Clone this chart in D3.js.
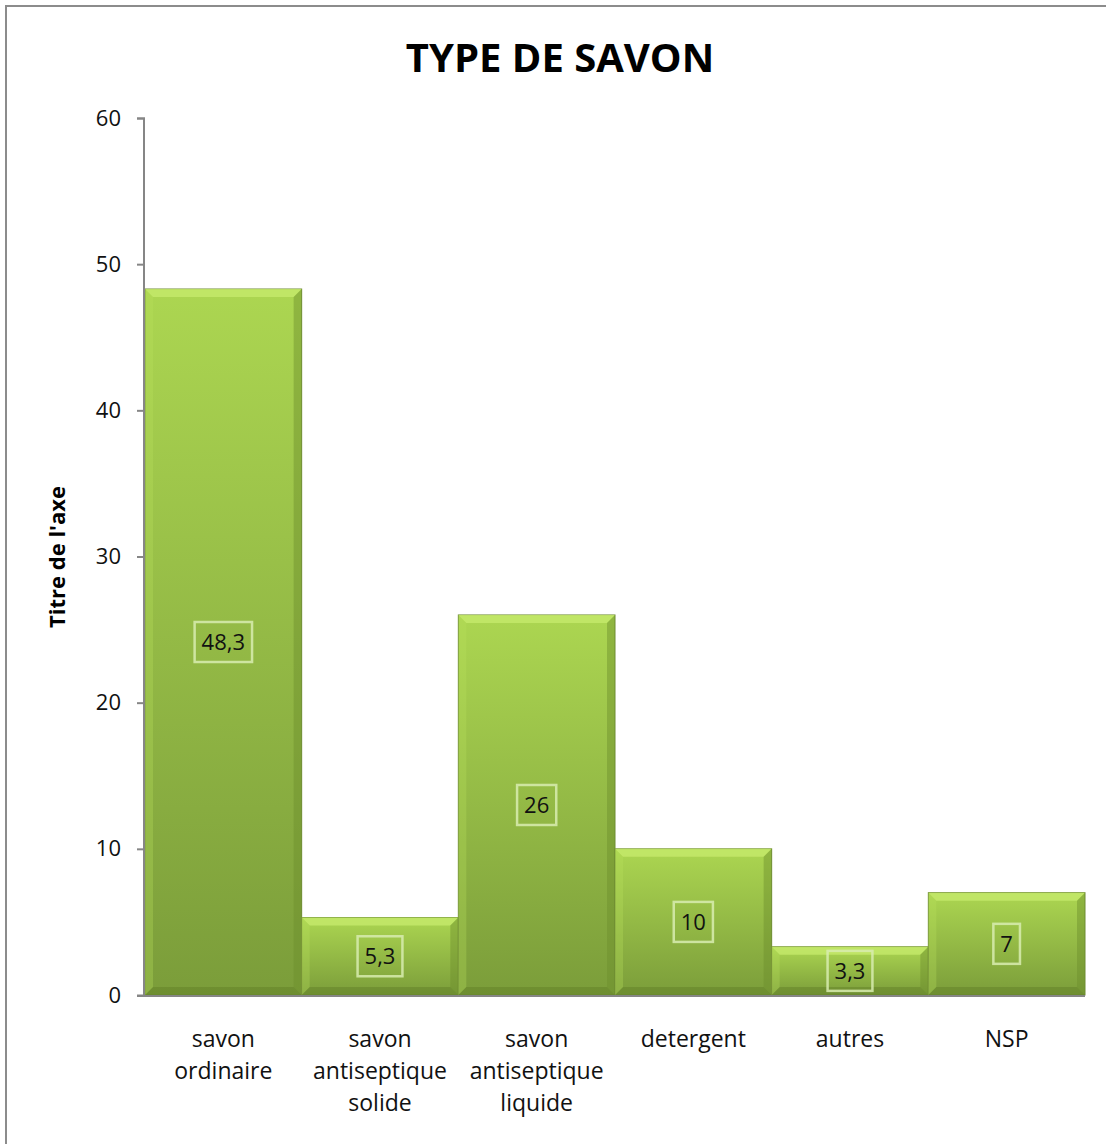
<!DOCTYPE html>
<html>
<head>
<meta charset="utf-8">
<script src="https://cdn.jsdelivr.net/npm/d3@7"></script>
<style>
  body { margin: 0; background: #fff; }
  text { font-family: "Open Sans", "Noto Sans", sans-serif; }
</style>
</head>
<body>
<div id="chart"></div>
<script>
    // donnees du graphique
    var categories = ["savon ordinaire", "savon antiseptique solide", "savon antiseptique liquide", "detergent", "autres", "NSP"];
    var categoryLines = [["savon", "ordinaire"], ["savon", "antiseptique", "solide"], ["savon", "antiseptique", "liquide"], ["detergent"], ["autres"], ["NSP"]];
    var values = [48.3, 5.3, 26, 10, 3.3, 7];
    var valueLabels = ["48,3", "5,3", "26", "10", "3,3", "7"];
    var yTicks = [0, 10, 20, 30, 40, 50, 60];

    var W = 1106, H = 1144;
    var margin = {top: 118, right: 21, bottom: 149, left: 145},
        width = W - margin.left - margin.right,
        height = H - margin.top - margin.bottom;

    var svg = d3.select("#chart")
      .append("svg")
        .attr("width", W)
        .attr("height", H);

    // cadre
    svg.append("rect")
      .attr("x", 6).attr("y", 6)
      .attr("width", W + 20).attr("height", H + 20)
      .attr("fill", "none")
      .attr("stroke", "#8c8c8c")
      .attr("stroke-width", 2);

    // degrade vert
    var defs = svg.append("defs");
    var grad = defs.append("linearGradient")
      .attr("id", "barGrad").attr("x1", 0).attr("y1", 0).attr("x2", 0).attr("y2", 1);
    grad.append("stop").attr("offset", "0%").attr("stop-color", "#acd651");
    grad.append("stop").attr("offset", "100%").attr("stop-color", "#7b9d3a");

    var g = svg.append("g")
      .attr("transform", "translate(" + margin.left + "," + margin.top + ")");

    var x = d3.scaleBand()
      .domain(categories)
      .range([0, width])
      .padding(0);

    var y = d3.scaleLinear()
      .domain([0, 60])
      .range([height, 0]);

    // barres
    var bars = g.selectAll(".bar")
      .data(values)
      .enter()
      .append("g")
        .attr("class", "bar");

    bars.append("rect")
      .attr("x", function(d, i) { return x(categories[i]); })
      .attr("y", function(d) { return y(d); })
      .attr("width", x.bandwidth())
      .attr("height", function(d) { return height - y(d); })
      .attr("fill", "url(#barGrad)")
      .attr("stroke", "#6f8c33")
      .attr("stroke-width", 1);

    // biseau : haut clair, bas et cote droit fonce
    var bev = 8;
    bars.append("path")
      .attr("d", function(d, i) {
        var x0 = x(categories[i]), x1 = x0 + x.bandwidth(), y0 = y(d);
        return "M" + x0 + "," + y0 + "L" + x1 + "," + y0 + "L" + (x1 - bev) + "," + (y0 + bev) + "L" + (x0 + bev) + "," + (y0 + bev) + "Z";
      })
      .attr("fill", "#c6ea6c").attr("opacity", 0.8);
    bars.append("path")
      .attr("d", function(d, i) {
        var x0 = x(categories[i]), x1 = x0 + x.bandwidth(), y0 = y(d), y1 = height;
        return "M" + x1 + "," + y0 + "L" + x1 + "," + y1 + "L" + (x1 - bev) + "," + (y1 - bev) + "L" + (x1 - bev) + "," + (y0 + bev) + "Z";
      })
      .attr("fill", "#6d8f2c").attr("opacity", 0.45);
    bars.append("path")
      .attr("d", function(d, i) {
        var x0 = x(categories[i]), x1 = x0 + x.bandwidth(), y1 = height;
        return "M" + x0 + "," + y1 + "L" + x1 + "," + y1 + "L" + (x1 - bev) + "," + (y1 - bev) + "L" + (x0 + bev) + "," + (y1 - bev) + "Z";
      })
      .attr("fill", "#5f7d26").attr("opacity", 0.45);
    bars.append("path")
      .attr("d", function(d, i) {
        var x0 = x(categories[i]), y0 = y(d), y1 = height;
        return "M" + x0 + "," + y0 + "L" + (x0 + bev) + "," + (y0 + bev) + "L" + (x0 + bev) + "," + (y1 - bev) + "L" + x0 + "," + y1 + "Z";
      })
      .attr("fill", "#b8e05c").attr("opacity", 0.3);

    // etiquettes de valeurs
    var labels = g.selectAll(".vlab")
      .data(values)
      .enter()
      .append("g")
        .attr("class", "vlab")
        .attr("transform", function(d, i) {
          return "translate(" + (x(categories[i]) + x.bandwidth() / 2) + "," + ((y(d) + height) / 2) + ")";
        });

    labels.append("text")
      .attr("text-anchor", "middle")
      .attr("dy", "0.36em")
      .style("font-size", "22px")
      .attr("fill", "#111")
      .text(function(d, i) { return valueLabels[i]; });

    labels.each(function() {
      var t = d3.select(this).select("text").node().getBBox();
      d3.select(this).insert("rect", "text")
        .attr("x", t.x - 7).attr("y", -20)
        .attr("width", t.width + 14).attr("height", 40)
        .attr("fill", "none")
        .attr("stroke", "#d8ecb0")
        .attr("stroke-opacity", 0.85)
        .attr("stroke-width", 2.5);
    });

    // axe y
    var yAxis = g.append("g")
      .call(d3.axisLeft(y).tickValues(yTicks).tickSize(8).tickPadding(16));
    yAxis.select(".domain").attr("stroke", "#868686").attr("stroke-width", 2).attr("d", "M-8,0.5H-1V" + height);
    yAxis.selectAll(".tick line").attr("stroke", "#868686").attr("stroke-width", 2);
    yAxis.selectAll(".tick text")
      .style("font-size", "22px")
      .style("font-family", "'Open Sans', sans-serif")
      .attr("fill", "#111");

    // axe x (ligne de base)
    g.append("line")
      .attr("x1", -8).attr("x2", width)
      .attr("y1", height + 1).attr("y2", height + 1)
      .attr("stroke", "#868686").attr("stroke-width", 2);

    // etiquettes des categories
    var xl = g.selectAll(".xlab")
      .data(categoryLines)
      .enter()
      .append("text")
        .attr("class", "xlab")
        .attr("text-anchor", "middle")
        .attr("x", function(d, i) { return x(categories[i]) + x.bandwidth() / 2; })
        .attr("y", height + 52)
        .style("font-size", "23px")
        .attr("fill", "#111");
    xl.selectAll("tspan")
      .data(function(d) { return d; })
      .enter()
      .append("tspan")
        .attr("x", function() { return d3.select(this.parentNode).attr("x"); })
        .attr("dy", function(d, j) { return j === 0 ? 0 : 32; })
        .text(function(d) { return d; });

    // titre
    svg.append("text")
      .attr("x", 560).attr("y", 72)
      .attr("text-anchor", "middle")
      .style("font-size", "40px")
      .style("font-weight", "bold")
      .attr("fill", "#000")
      .text("TYPE DE SAVON");

    // titre de l'axe
    svg.append("text")
      .attr("transform", "translate(65,557) rotate(-90)")
      .attr("text-anchor", "middle")
      .style("font-size", "22px")
      .style("font-weight", "bold")
      .attr("fill", "#000")
      .text("Titre de l'axe");
</script>
</body>
</html>
